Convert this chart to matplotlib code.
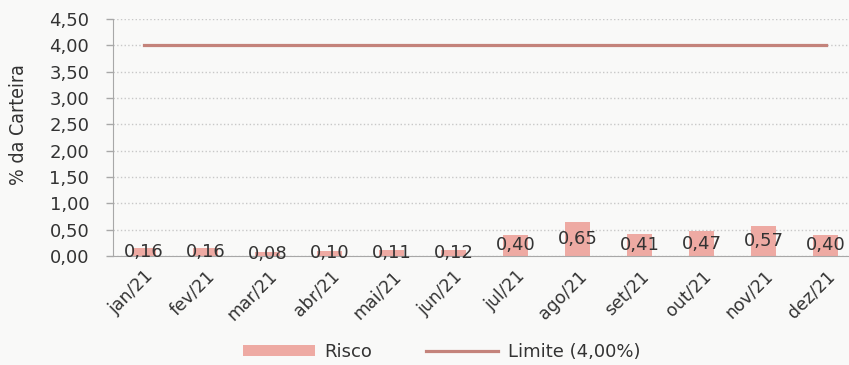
import matplotlib.pyplot as plt
from matplotlib.ticker import MultipleLocator, FuncFormatter

meses = ["jan/21", "fev/21", "mar/21", "abr/21", "mai/21", "jun/21",
         "jul/21", "ago/21", "set/21", "out/21", "nov/21", "dez/21"]
risco = [0.16, 0.16, 0.08, 0.10, 0.11, 0.12, 0.40, 0.65, 0.41, 0.47, 0.57, 0.40]
limite = [4.00] * len(meses)

COR_BARRA = "#eeaaa3"
COR_LINHA = "#c4837b"
COR_TEXTO = "#333333"
COR_EIXO = "#a8a8a8"
COR_FUNDO = "#f9f9f8"


def virgula(v, pos=None):
    return f"{v:.2f}".replace(".", ",")


fig = plt.figure(figsize=(8.49, 3.65), dpi=100, facecolor=COR_FUNDO)
ax = fig.add_axes([0.133, 0.2986, 0.876, 0.649])
ax.set_facecolor(COR_FUNDO)

x = list(range(len(meses)))
barras = ax.bar(x, risco, width=0.4, color=COR_BARRA, label="Risco", zorder=2)
linha, = ax.plot(x, limite, color=COR_LINHA, lw=2.3, label="Limite (4,00%)", zorder=3)

ax.bar_label(barras, labels=[virgula(v) for v in risco], label_type="center",
             fontsize=13, color=COR_TEXTO, zorder=4)

ax.set_xlim(-0.5, len(meses) - 0.5)
ax.set_ylim(0, 4.5)
ax.yaxis.set_major_locator(MultipleLocator(0.5))
ax.yaxis.set_major_formatter(FuncFormatter(virgula))

ax.set_xticks(x)
ax.set_xticklabels(meses, rotation=45, ha="right", rotation_mode="anchor")
ax.tick_params(axis="x", length=0, pad=8, labelsize=12.5, labelcolor=COR_TEXTO)
ax.tick_params(axis="y", length=5, width=1, color=COR_EIXO, pad=12,
               labelsize=13, labelcolor=COR_TEXTO)

ax.yaxis.grid(True, linestyle=":", color="#c8c8c8", lw=1, zorder=0)
ax.set_axisbelow(True)
for lado in ["top", "right"]:
    ax.spines[lado].set_visible(False)
ax.spines["left"].set_color(COR_EIXO)
ax.spines["bottom"].set_color(COR_EIXO)

fig.text(0.022, 0.66, "% da Carteira", rotation=90, ha="center", va="center",
         fontsize=14, color=COR_TEXTO, family="DejaVu Sans",
         fontstretch="condensed")

fig.legend(handles=[barras, linha], loc="center", bbox_to_anchor=(0.52, 0.036),
           ncol=2, frameon=False, fontsize=13, handlelength=4.0,
           handleheight=0.6, handletextpad=0.5, columnspacing=3.0,
           labelcolor=COR_TEXTO)

fig.savefig("out.png", dpi=100, facecolor=COR_FUNDO)
